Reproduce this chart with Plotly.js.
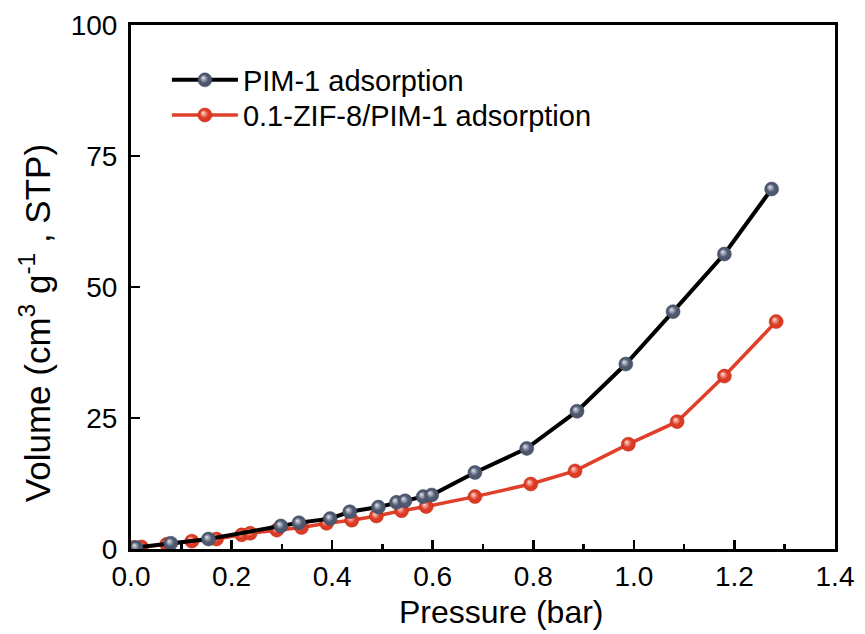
<!DOCTYPE html>
<html>
<head>
<meta charset="utf-8">
<script src="https://cdn.plot.ly/plotly-3.0.1.min.js"></script>
<style>html,body{margin:0;padding:0;background:#fff;}#chart{width:865px;height:634px;}</style>
</head>
<body>
<div id="chart"></div>
<script>
// PIM-1 adsorption
var pimPressure = [0.010, 0.079, 0.154, 0.298, 0.334, 0.396, 0.435, 0.492, 0.528, 0.545, 0.581, 0.598, 0.684, 0.787, 0.887, 0.984, 1.078, 1.180, 1.274];
var pimVolume   = [0.3,   1.1,   1.9,   4.4,   5.0,   5.8,   7.1,   8.0,   8.9,   9.2,   10.0,  10.3,  14.6,  19.2,  26.3,  35.3,  45.3,  56.3,  68.7];
// 0.1-ZIF-8/PIM-1 adsorption
var zifPressure = [0.005, 0.021, 0.071, 0.121, 0.170, 0.220, 0.237, 0.290, 0.339, 0.389, 0.439, 0.488, 0.538, 0.587, 0.684, 0.795, 0.883, 0.989, 1.086, 1.180, 1.283];
var zifVolume   = [0.3,   0.4,   0.9,   1.5,   1.9,   2.7,   3.0,   3.6,   4.1,   4.9,   5.5,   6.3,   7.3,   8.1,   10.0,  12.4,  14.9,  20.0,  24.3,  33.0,  43.4];
var seriesNames = ["PIM-1 adsorption", "0.1-ZIF-8/PIM-1 adsorption"];
var xTickVals = [0, 0.2, 0.4, 0.6, 0.8, 1.0, 1.2, 1.4];
var yTickVals = [0, 25, 50, 75, 100];

var FONT = "Arial, 'Liberation Sans', sans-serif";

var traces = [
  {x: zifPressure, y: zifVolume, name: seriesNames[1], mode: "lines+markers", type: "scatter",
   legend: "legend2",
   line: {color: "#e0402a", width: 3.5},
   marker: {size: 14, color: "#dd3a24", line: {width: 0.5, color: "#b52a18"},
            gradient: {type: "radial", color: "#fde2dc"}}},
  {x: pimPressure, y: pimVolume, name: seriesNames[0], mode: "lines+markers", type: "scatter",
   legend: "legend",
   line: {color: "#000000", width: 4},
   marker: {size: 14, color: "#4d5870", line: {width: 0.5, color: "#3a4255"},
            gradient: {type: "radial", color: "#e4e7ee"}}}
];

var legendCommon = {xanchor: "left", yanchor: "middle",
           font: {family: FONT, size: 29, color: "#000"}, bgcolor: "rgba(0,0,0,0)",
           itemwidth: 66};

var layout = {
  width: 865, height: 634,
  margin: {l: 131, r: 30, t: 25, b: 85},
  paper_bgcolor: "#fff", plot_bgcolor: "#fff",
  font: {family: FONT, color: "#000", size: 28},
  showlegend: true,
  legend: Object.assign({x: 0.051, y: 0.895}, legendCommon),
  legend2: Object.assign({x: 0.051, y: 0.828}, legendCommon),
  xaxis: {range: [0, 1.4], tickvals: xTickVals, tickformat: ".1f",
          showline: true, linewidth: 3, linecolor: "#000", mirror: true,
          ticks: "inside", ticklen: 9, tickwidth: 2.5, tickcolor: "#000",
          minor: {ticks: "inside", dtick: 0.1, ticklen: 5, tickwidth: 2.5, tickcolor: "#000"},
          showgrid: false, zeroline: false,
          tickfont: {family: FONT, size: 28, color: "#000"}},
  yaxis: {range: [0, 100], tickvals: yTickVals,
          showline: true, linewidth: 3, linecolor: "#000", mirror: true,
          ticks: "inside", ticklen: 9, tickwidth: 2.5, tickcolor: "#000",
          showgrid: false, zeroline: false, ticklabelstandoff: 5,
          tickfont: {family: FONT, size: 28, color: "#000"}},
  annotations: [
    {text: "Pressure (bar)", xref: "paper", yref: "paper", x: 0.526, y: -0.12,
     xanchor: "center", yanchor: "middle", showarrow: false,
     font: {family: FONT, size: 32, color: "#000"}},
    {text: "Volume (cm<sup>3</sup>&nbsp;g<sup>-1</sup>&nbsp;, STP)", xref: "paper", yref: "paper",
     x: -0.137, y: 0.43, xanchor: "center", yanchor: "middle", textangle: -90, showarrow: false,
     font: {family: FONT, size: 35, color: "#000"}}
  ]
};

Plotly.newPlot("chart", traces, layout, {staticPlot: true, displayModeBar: false}).then(function(){
  var grads = document.querySelectorAll("#chart radialGradient");
  grads.forEach(function(g){
    g.setAttribute("fx", "0.36");
    g.setAttribute("fy", "0.34");
    var stops = g.querySelectorAll("stop");
    stops.forEach(function(s){
      var off = s.getAttribute("offset");
      if (off === "1" || off === "100%") s.setAttribute("offset", "0.6");
    });
  });
});
</script>
</body>
</html>
